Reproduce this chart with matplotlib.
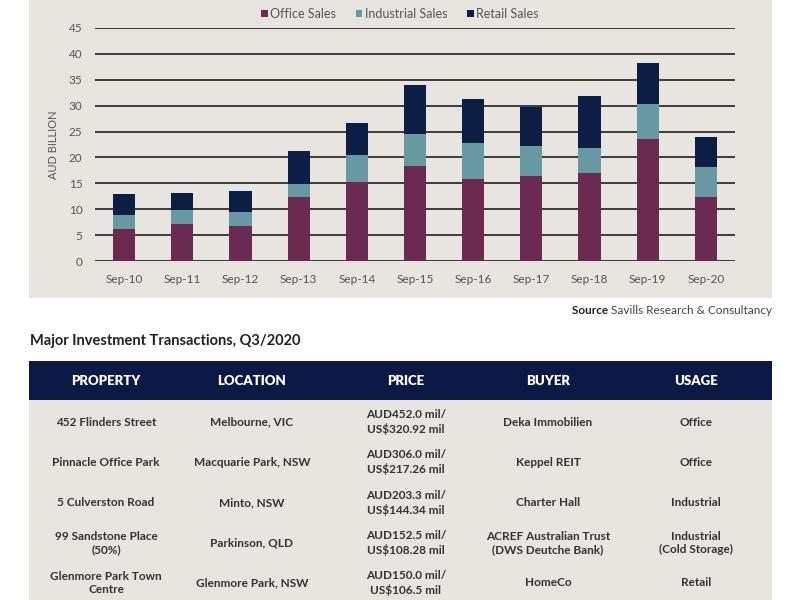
import numpy as np
import matplotlib.pyplot as plt
from matplotlib.patches import Rectangle

# Chart data (AUD billion)
periods = ['Sep-10', 'Sep-11', 'Sep-12', 'Sep-13', 'Sep-14', 'Sep-15',
           'Sep-16', 'Sep-17', 'Sep-18', 'Sep-19', 'Sep-20']
office = [6.1, 7.1, 6.8, 12.3, 15.3, 18.3, 15.8, 16.5, 17.0, 23.6, 12.3]
industrial = [2.8, 2.7, 2.7, 2.6, 5.1, 6.3, 6.9, 5.7, 4.8, 6.8, 5.8]
retail = [4.0, 3.4, 4.0, 6.3, 6.2, 9.4, 8.6, 7.6, 10.1, 7.9, 5.9]

# Table data
col_headers = ['PROPERTY', 'LOCATION', 'PRICE', 'BUYER', 'USAGE']
properties = ['452 Flinders Street', 'Pinnacle Office Park', '5 Culverston Road',
              '99 Sandstone Place\n(50%)', 'Glenmore Park Town\nCentre']
locations = ['Melbourne, VIC', 'Macquarie Park, NSW', 'Minto, NSW',
             'Parkinson, QLD', 'Glenmore Park, NSW']
prices = ['AUD452.0 mil/\nUS$320.92 mil', 'AUD306.0 mil/\nUS$217.26 mil',
          'AUD203.3 mil/\nUS$144.34 mil', 'AUD152.5 mil/\nUS$108.28 mil',
          'AUD150.0 mil/\nUS$106.5 mil']
buyers = ['Deka Immobilien', 'Keppel REIT', 'Charter Hall',
          'ACREF Australian Trust\n(DWS Deutche Bank)', 'HomeCo']
usages = ['Office', 'Office', 'Industrial', 'Industrial\n(Cold Storage)', 'Retail']

c_office = '#6b2a50'
c_ind = '#6699a1'
c_retail = '#0d1e45'
beige = '#e8e4df'
navy = '#0b1a45'

plt.rcParams['font.family'] = ['Lato', 'DejaVu Sans']

fig = plt.figure(figsize=(8, 6), dpi=100)
fig.patch.set_facecolor('white')

# beige chart panel
fig.patches.append(Rectangle((29 / 800, 1 - 298 / 600), 743 / 800, 298 / 600,
                             transform=fig.transFigure, facecolor=beige,
                             edgecolor='none', zorder=-5))

ax = fig.add_axes([95 / 800, 1 - 261 / 600, 640 / 800, 233 / 600])
ax.set_facecolor('none')
ax.set_zorder(2)
x = np.arange(len(periods))
w = 0.38
off = np.array(office)
ind = np.array(industrial)
ret = np.array(retail)
ax.bar(x, off, w, color=c_office, label='Office Sales', zorder=3)
ax.bar(x, ind, w, bottom=off, color=c_ind, label='Industrial Sales', zorder=3)
ax.bar(x, ret, w, bottom=off + ind, color=c_retail, label='Retail Sales', zorder=3)

ax.set_xlim(-0.5, len(periods) - 0.5)
ax.set_ylim(0, 45)
ax.set_yticks(np.arange(0, 46, 5))
ax.set_xticks(x)
ax.set_xticklabels(periods)
ax.yaxis.grid(True, color='#3c3c3c', linewidth=1.4, zorder=1)
for s in ax.spines.values():
    s.set_visible(False)
ax.tick_params(length=0, labelsize=8.5, colors='#555555', pad=9)
ax.set_ylabel('AUD BILLION', fontsize=8, color='#555555', labelpad=7)

fig.legend(loc='center', bbox_to_anchor=(0.5, 1 - 14 / 600), ncol=3,
           frameon=False, fontsize=9, handlelength=0.5, handleheight=0.5,
           handletextpad=0.2, columnspacing=1.6, labelcolor='#555555')

# source line
src = fig.text(772 / 800, 1 - 310 / 600, 'Savills Research & Consultancy',
               ha='right', va='center', fontsize=8.5, color='#444444')
ax.annotate('Source ', xy=(0, 0.5), xycoords=src, ha='right', va='center',
            fontsize=8.5, color='#222222', fontweight='bold',
            annotation_clip=False)

# table title
fig.text(30 / 800, 1 - 341 / 600, 'Major Investment Transactions, Q3/2020',
         ha='left', va='center', fontsize=10.5, fontweight='bold', color='#222222')

# table header and body backgrounds
fig.patches.append(Rectangle((29 / 800, 1 - 400 / 600), 743 / 800, 39 / 600,
                             transform=fig.transFigure, facecolor=navy,
                             edgecolor='none', zorder=-5))
fig.patches.append(Rectangle((29 / 800, 0), 743 / 800, 1 - 400 / 600,
                             transform=fig.transFigure, facecolor=beige,
                             edgecolor='none', zorder=-5))

col_x = [106, 252, 406, 548, 696]
for cx, h in zip(col_x, col_headers):
    fig.text(cx / 800, 1 - 381 / 600, h, ha='center', va='center',
             fontsize=9.5, fontweight='heavy', color='white')

row_y = [422, 462, 503, 543, 583]
columns = [properties, locations, prices, buyers, usages]
for cx, col in zip(col_x, columns):
    for ry, txt in zip(row_y, col):
        fig.text(cx / 800, 1 - ry / 600, txt, ha='center', va='center',
                 fontsize=8.5, fontweight='bold', color='#333333',
                 linespacing=1.25)

fig.savefig('out.png', dpi=100)
